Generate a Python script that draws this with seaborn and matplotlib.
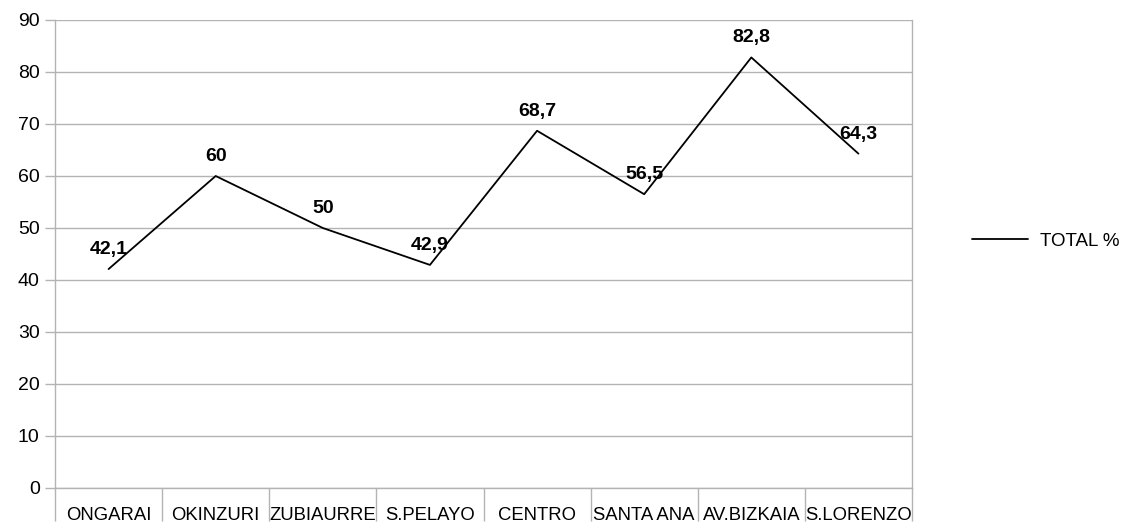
import matplotlib
matplotlib.use("Agg")
import matplotlib.pyplot as plt
import seaborn as sns
import pandas as pd
from matplotlib.ticker import FixedLocator

categories = ["ONGARAI", "OKINZURI", "ZUBIAURRE", "S.PELAYO", "CENTRO",
              "SANTA ANA", "AV.BIZKAIA", "S.LORENZO"]
total_pct = [42.1, 60, 50, 42.9, 68.7, 56.5, 82.8, 64.3]
series_name = "TOTAL %"
y_ticks = list(range(0, 91, 10))

sns.set_style("white")
plt.rcParams["font.family"] = ["Liberation Sans", "DejaVu Sans"]
plt.rcParams["text.color"] = "black"
plt.rcParams["xtick.color"] = "black"
plt.rcParams["ytick.color"] = "black"
plt.rcParams["xtick.labelcolor"] = "black"
plt.rcParams["ytick.labelcolor"] = "black"

df = pd.DataFrame({"cat": categories, "val": total_pct})

fig = plt.figure(figsize=(11.44, 5.28), dpi=100)
ax = fig.add_axes([55/1144, 1-488/528, (912-55)/1144, (488-20)/528])

grid_c = "#b3b3b3"
sns.lineplot(data=df, x="cat", y="val", ax=ax, color="black", linewidth=1.3,
             label=series_name, legend=False, sort=False)

ax.set_xlim(-0.5, len(categories) - 0.5)
ax.set_ylim(0, 90)
ax.set_yticks(y_ticks)
ax.yaxis.grid(True, color=grid_c, linewidth=1)
ax.xaxis.grid(False)
ax.set_axisbelow(True)

for s in ["left", "bottom", "right"]:
    ax.spines[s].set_visible(True)
    ax.spines[s].set_color(grid_c)
    ax.spines[s].set_linewidth(1)
ax.spines["top"].set_visible(False)

ax.tick_params(axis="y", which="major", length=7, color=grid_c, width=1,
               labelsize=14, pad=4, left=True, labelcolor="black")
ax.set_xticks(range(len(categories)))
ax.set_xticklabels(categories)
ax.tick_params(axis="x", which="major", length=0, labelsize=13.3, pad=14,
               labelcolor="black")
ax.xaxis.set_minor_locator(FixedLocator([i - 0.5 for i in range(len(categories) + 1)]))
ax.tick_params(axis="x", which="minor", length=24, color=grid_c, width=1, bottom=True)
ax.set_xlabel("")
ax.set_ylabel("")

for i, v in enumerate(total_pct):
    txt = ("%g" % v).replace(".", ",")
    ax.annotate(txt, (i, v), xytext=(0, 14), textcoords="offset points",
                ha="center", va="center", fontsize=14, fontweight="bold",
                color="black")

handles, labels = ax.get_legend_handles_labels()
leg = fig.legend(handles, labels, loc="center left",
                 bbox_to_anchor=(972/1144, 1-241/528), frameon=False,
                 fontsize=13.5, handlelength=3.0, handletextpad=0.65,
                 borderpad=0, borderaxespad=0)
for t in leg.get_texts():
    t.set_color("black")

fig.savefig("out.png", dpi=100)
